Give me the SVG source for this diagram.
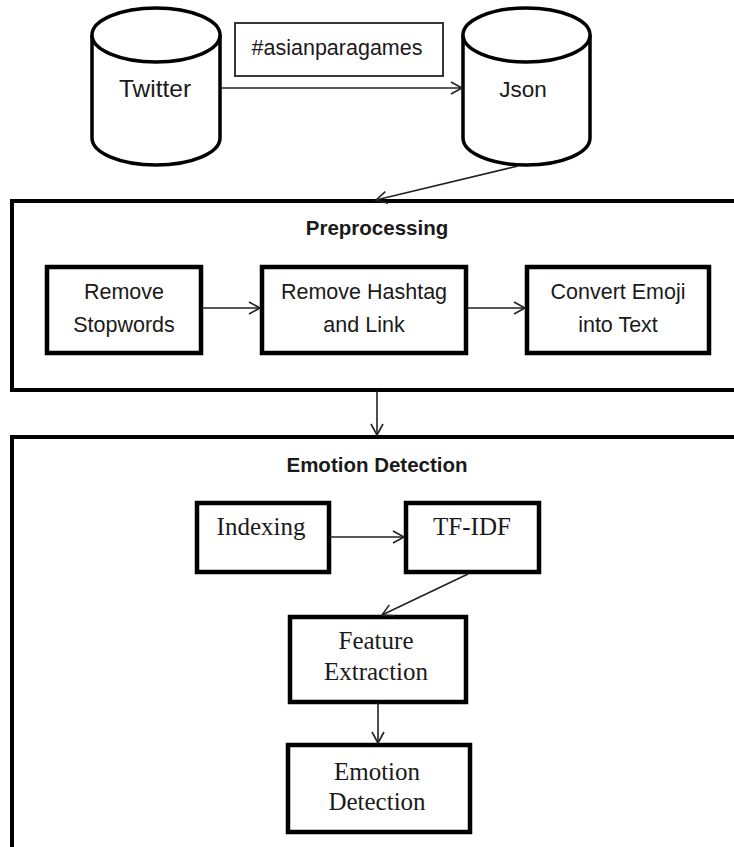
<svg xmlns="http://www.w3.org/2000/svg" width="734" height="847" viewBox="0 0 734 847">
<defs>
<marker id="arr" markerUnits="userSpaceOnUse" markerWidth="14" markerHeight="14" refX="11" refY="6" orient="auto" viewBox="0 0 14 12" overflow="visible">
<path d="M0,0 L11,6 L0,12" fill="none" stroke="#222" stroke-width="1.6"/>
</marker>
<style>
.cyl{fill:#fff;stroke:#000;stroke-width:3.5}
.box{fill:#fff;stroke:#000;stroke-width:4.5}
.outer{fill:#fff;stroke:#000;stroke-width:4}
.tag{fill:#fff;stroke:#222;stroke-width:1.8}
.sans{font-family:"Liberation Sans",Arial,sans-serif;fill:#1a1a1a;text-anchor:middle}
.serif{font-family:"Liberation Serif","Times New Roman",serif;fill:#1a1a1a;text-anchor:middle;font-size:25px}
.bold{font-weight:bold}
.conn line{stroke:#222;stroke-width:1.6;fill:none}
</style>
</defs>
<rect width="734" height="847" fill="#fff"/>

<g id="preprocessing">
<rect class="outer" x="12" y="201" width="740" height="189"/>
<text class="sans bold" x="377" y="235" font-size="20.5">Preprocessing</text>
</g>
<g id="emotion-detection-stage">
<rect class="outer" x="12" y="437" width="740" height="440"/>
<text class="sans bold" x="377" y="472" font-size="20.5">Emotion Detection</text>
</g>

<g id="twitter">
<path class="cyl" d="M92,35 L92,138 A64,27 0 0 0 220,138 L220,35"/>
<ellipse class="cyl" cx="156" cy="35" rx="64" ry="27"/>
<text class="sans" x="155" y="97" font-size="24.5">Twitter</text>
</g>
<g id="json">
<path class="cyl" d="M463,35 L463,138 A63.5,27 0 0 0 590,138 L590,35"/>
<ellipse class="cyl" cx="526.5" cy="35" rx="63.5" ry="27"/>
<text class="sans" x="523" y="97" font-size="22.5">Json</text>
</g>
<g id="hashtag">
<rect class="tag" x="235" y="23" width="208" height="53"/>
<text class="sans" x="337" y="55" font-size="21.5">#asianparagames</text>
</g>

<g id="remove-stopwords">
<rect class="box" x="47" y="267" width="154" height="86"/>
<text class="sans" x="124" y="299" font-size="21.5">Remove</text>
<text class="sans" x="124" y="332" font-size="21.5">Stopwords</text>
</g>
<g id="remove-hashtag">
<rect class="box" x="262" y="267" width="204" height="86"/>
<text class="sans" x="364" y="299" font-size="21.5">Remove Hashtag</text>
<text class="sans" x="364" y="332" font-size="21.5">and Link</text>
</g>
<g id="convert-emoji">
<rect class="box" x="527" y="267" width="182" height="86"/>
<text class="sans" x="618" y="299" font-size="21.5">Convert Emoji</text>
<text class="sans" x="618" y="332" font-size="21.5">into Text</text>
</g>

<g id="indexing">
<rect class="box" x="197" y="503" width="132" height="69"/>
<text class="serif" x="261" y="535">Indexing</text>
</g>
<g id="tf-idf">
<rect class="box" x="406" y="503" width="133" height="69"/>
<text class="serif" x="472" y="535">TF-IDF</text>
</g>
<g id="feature-extraction">
<rect class="box" x="290" y="617" width="176" height="85"/>
<text class="serif" x="376" y="649">Feature</text>
<text class="serif" x="376" y="680">Extraction</text>
</g>
<g id="emotion-detection">
<rect class="box" x="288" y="745" width="182" height="87"/>
<text class="serif" x="377" y="780">Emotion</text>
<text class="serif" x="377" y="810">Detection</text>
</g>

<g id="connectors" class="conn">
<line x1="221" y1="88" x2="462" y2="88" marker-end="url(#arr)"/>
<line x1="518" y1="166" x2="376" y2="200" marker-end="url(#arr)"/>
<line x1="202" y1="308" x2="260" y2="308" marker-end="url(#arr)"/>
<line x1="467" y1="308" x2="525" y2="308" marker-end="url(#arr)"/>
<line x1="377" y1="391" x2="377" y2="435" marker-end="url(#arr)"/>
<line x1="330" y1="537" x2="404" y2="537" marker-end="url(#arr)"/>
<line x1="468" y1="574" x2="382" y2="615" marker-end="url(#arr)"/>
<line x1="378" y1="703" x2="378" y2="743" marker-end="url(#arr)"/>
</g>
</svg>
